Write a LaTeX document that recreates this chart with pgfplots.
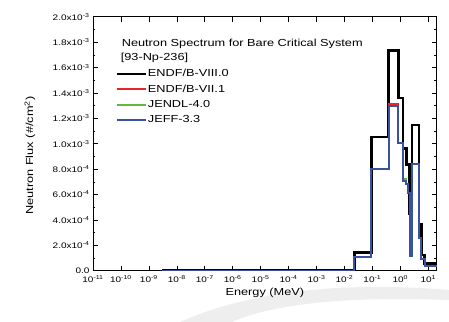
\documentclass[border=0pt]{standalone}
\usepackage{pgfplots}
\pgfplotsset{compat=1.18}
\usepackage{pgfplotstable}
\usepackage{fontspec}
\setmainfont{Liberation Sans}[FakeStretch=1.25]

\definecolor{cred}{RGB}{232,36,40}
\definecolor{cgreen}{RGB}{96,186,60}
\definecolor{cblue}{RGB}{58,82,162}

\pgfplotstableread{
E F
2.9e-9 0
0.0227 1.42e-4
0.092 1.053e-3
0.382 1.732e-3
0.85 1.36e-3
1.26 0.962e-3
1.64 0.835e-3
2.15 0.45e-3
2.6 1.147e-3
4.6 0.365e-3
5.6 0.124e-3
7.4 0.058e-3
20 0.058e-3
}\blackdata

\pgfplotstableread{
E F
2.9e-9 0
0.0227 1.10e-4
0.092 0.803e-3
0.382 1.312e-3
0.85 1.008e-3
1.26 0.709e-3
1.64 0.683e-3
1.9 0.61e-3
2.15 0.116e-3
2.6 0.84e-3
4.6 0.255e-3
5.6 0.092e-3
7.4 0.037e-3
20 0.037e-3
}\reddata

\pgfplotstableread{
E F
2.9e-9 0
0.0227 1.10e-4
0.092 0.803e-3
0.382 1.300e-3
0.85 1.008e-3
1.26 0.720e-3
1.64 0.683e-3
1.9 0.61e-3
2.15 0.116e-3
2.6 0.84e-3
4.6 0.255e-3
5.6 0.092e-3
7.4 0.037e-3
20 0.037e-3
}\greendata

\pgfplotstableread{
E F
2.9e-9 0
0.0227 1.10e-4
0.092 0.803e-3
0.382 1.300e-3
0.85 1.008e-3
1.26 0.709e-3
1.64 0.683e-3
1.9 0.61e-3
2.15 0.116e-3
2.6 0.84e-3
4.6 0.255e-3
5.6 0.092e-3
7.4 0.037e-3
20 0.037e-3
}\bluedata

\begin{document}
\begin{tikzpicture}
\begin{axis}[
  scale only axis, width=343.7bp, height=254bp,
  xmode=log, log basis x=10,
  xmin=1e-11, xmax=20, ymin=0, ymax=2e-3,
  xtick={1e-11,1e-10,1e-9,1e-8,1e-7,1e-6,1e-5,1e-4,1e-3,1e-2,1e-1,1e0,1e1},
  xticklabels={10\textsuperscript{-11},10\textsuperscript{-10},10\textsuperscript{-9},10\textsuperscript{-8},10\textsuperscript{-7},10\textsuperscript{-6},10\textsuperscript{-5},10\textsuperscript{-4},10\textsuperscript{-3},10\textsuperscript{-2},10\textsuperscript{-1},10\textsuperscript{0},10\textsuperscript{1}},
  ytick={0,2e-4,4e-4,6e-4,8e-4,1e-3,1.2e-3,1.4e-3,1.6e-3,1.8e-3,2e-3},
  yticklabels={0.0,2.0x10\textsuperscript{-4},4.0x10\textsuperscript{-4},6.0x10\textsuperscript{-4},8.0x10\textsuperscript{-4},1.0x10\textsuperscript{-3},1.2x10\textsuperscript{-3},1.4x10\textsuperscript{-3},1.6x10\textsuperscript{-3},1.8x10\textsuperscript{-3},2.0x10\textsuperscript{-3}},
  scaled y ticks=false,
  minor y tick num=1,
  tick align=inside,
  major tick length=5bp, minor tick length=2.5bp,
  axis line style={line width=0.8bp},
  every tick/.style={line width=0.6bp, black},
  tick label style={font=\fontsize{8bp}{9bp}\selectfont},
  xticklabel style={yshift=-1.5bp},
  /pgf/number format/assume math mode=true,
  const plot,
  legend image code/.code={\draw[#1, line width=2bp] (0bp,0bp) -- (28.4bp,0bp);},
  legend style={draw=none, fill=none, at={(axis description cs:0,1)}, anchor=north west,
    xshift=23.3bp, yshift=-49.75bp, inner sep=0pt, row sep=0pt,
    nodes={inner xsep=1bp, inner ysep=2.95bp, text height=7.3bp, text depth=2bp,
      font=\fontsize{10.2bp}{12bp}\selectfont},
    cells={anchor=west}},
]
\addplot[black, line width=2.6bp] table[x=E, y=F] {\blackdata};
\addlegendentry{ENDF/B-VIII.0}
\addplot[cred, line width=2bp] table[x=E, y=F] {\reddata};
\addlegendentry{ENDF/B-VII.1}
\addplot[cgreen, line width=2bp] table[x=E, y=F] {\greendata};
\addlegendentry{JENDL-4.0}
\addplot[cblue, line width=2bp] table[x=E, y=F] {\bluedata};
\addlegendentry{JEFF-3.3}
\end{axis}
\coordinate (O) at ([xshift=-93bp,yshift=-51.3bp]current axis.south west);
\begin{scope}[shift={(O)}, x=1bp, y=1bp]
  \fill[gray!13] (180,0) .. controls (240,27) and (330,42) .. (449,32)
     -- (449,22) .. controls (340,26) and (270,17) .. (232,0) -- cycle;
\end{scope}
\node[anchor=base west, font=\fontsize{10.2bp}{12bp}\selectfont] at ([xshift=25.3bp,yshift=-30bp]current axis.north west) {Neutron Spectrum for Bare Critical System};
\node[anchor=base west, font=\fontsize{10.2bp}{12bp}\selectfont] at ([xshift=24.3bp,yshift=-43.3bp]current axis.north west) {[93-Np-236]};
\node[font=\fontsize{10.2bp}{12bp}\selectfont] at ([yshift=-22.3bp]current axis.south) {Energy (MeV)};
\node[rotate=90, font=\fontsize{10.2bp}{12bp}\selectfont] at ([xshift=-63bp,yshift=-12bp]current axis.west) {Neutron Flux (\#/cm\textsuperscript{2})};
\pgfresetboundingbox
\path[use as bounding box] (O) rectangle ([xshift=449bp,yshift=322bp]O);
\end{tikzpicture}
\end{document}
